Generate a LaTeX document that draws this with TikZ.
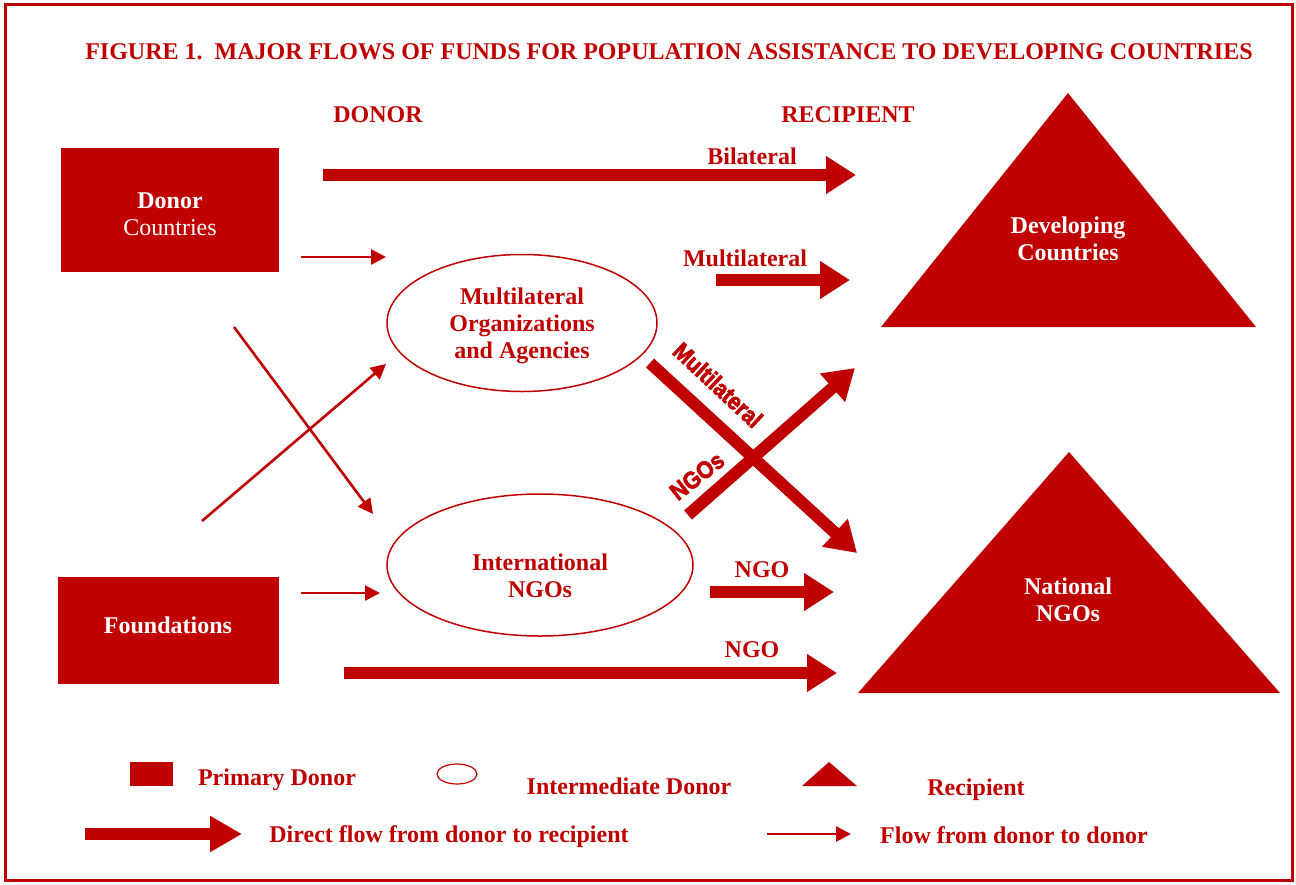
\documentclass[tikz,border=0pt]{standalone}
\usepackage{fontspec}
\setmainfont{Liberation Serif}
\newfontface\heavyfont[FakeBold=3]{Liberation Sans Bold}
\usetikzlibrary{arrows.meta,shapes.geometric}
\definecolor{dred}{HTML}{C00000}
\tikzset{
  txt/.style={text=dred, font=\fontsize{24}{27}\selectfont\bfseries, inner sep=0pt, align=center, text height=19pt, text depth=4pt},
  wtxt/.style={txt, text=white},
  donorbox/.style={fill=dred, draw=none, rectangle, inner sep=0pt},
  interell/.style={ellipse, draw=dred, line width=1.5pt, inner sep=0pt},
  thickflow/.style={draw=dred, line width=12pt, -{Triangle[length=30pt,width=36pt]}},
  thinflow/.style={draw=dred, line width=2.6pt, -{Triangle[length=15pt,width=15pt]}},
  recip/.style={fill=dred, draw=none},
  diaglbl/.style={text=dred, font=\heavyfont\fontsize{24}{27}\selectfont, inner sep=0pt}
}
\begin{document}
\begin{tikzpicture}[x=1pt,y=-1pt]
\useasboundingbox (0,0) rectangle (1296,884);
\draw[dred, line width=3pt] (5,4) rectangle (1292,880);

\node[txt] (title) at (669,52) {FIGURE 1.\ \ MAJOR FLOWS OF FUNDS FOR POPULATION ASSISTANCE TO DEVELOPING COUNTRIES};
\node[txt] (donorhd) at (378,115) {DONOR};
\node[txt] (reciphd) at (848,115) {RECIPIENT};

% primary donors
\node[donorbox, minimum width=218pt, minimum height=124pt] (dc) at (170,210) {};
\node[wtxt] (dctxt) at (170,228) {Donor\\\mdseries Countries};
\node[donorbox, minimum width=221pt, minimum height=107pt] (fd) at (168.5,630.5) {};
\node[wtxt] (fdtxt) at (168,626) {Foundations};

% intermediate donors
\node[interell, minimum width=270pt, minimum height=137pt] (mo) at (522,323) {};
\node[txt] (motxt) at (522,351) {Multilateral\\Organizations\\and Agencies};
\node[interell, minimum width=306pt, minimum height=142pt] (ing) at (540,565) {};
\node[txt] (ingtxt) at (540,590) {International\\NGOs};

% recipients
\coordinate (t1a) at (1068,93);
\coordinate (t1l) at (881,327);
\coordinate (t1r) at (1256,327);
\fill[recip] (t1a) -- (t1l) -- (t1r) -- cycle;
\node[wtxt] (dev) at (1068,253) {Developing\\Countries};
\coordinate (t2a) at (1069,452);
\coordinate (t2l) at (858,693);
\coordinate (t2r) at (1280,693);
\fill[recip] (t2a) -- (t2l) -- (t2r) -- cycle;
\node[wtxt] (nat) at (1068,614) {National\\NGOs};

% direct flows
\coordinate (b1) at (323,175); \coordinate (b2) at (856,175);
\draw[thickflow] (b1) -- (b2);
\node[txt] (bil) at (752,157) {Bilateral};
\coordinate (m1) at (716,280); \coordinate (m2) at (850,280);
\draw[thickflow] (m1) -- (m2);
\node[txt] (mul) at (745,259) {Multilateral};
\coordinate (n1) at (710,592); \coordinate (n2) at (834,592);
\draw[thickflow] (n1) -- (n2);
\node[txt] (ngo1) at (762,570) {NGO};
\coordinate (g1) at (344,673); \coordinate (g2) at (837,673);
\draw[thickflow] (g1) -- (g2);
\node[txt] (ngo2) at (752,650) {NGO};
\coordinate (d1) at (650,363); \coordinate (d2) at (857,553);
\draw[thickflow] (d1) -- (d2);
\node[diaglbl, rotate=-43] (dml) at (718,385) {\scalebox{0.88}[1]{Multilateral}};
\coordinate (e1) at (688,515); \coordinate (e2) at (855,368);
\draw[thickflow] (e1) -- (e2);
\node[diaglbl, rotate=38] (dng) at (697,476) {\scalebox{0.9}[1]{NGOs}};

% donor to donor flows
\coordinate (f1) at (301,257); \coordinate (f2) at (386,257);
\draw[thinflow] (f1) -- (f2);
\coordinate (f3) at (301,593); \coordinate (f4) at (380,593);
\draw[thinflow] (f3) -- (f4);
\coordinate (f5) at (234,327); \coordinate (f6) at (373,514);
\draw[thinflow] (f5) -- (f6);
\coordinate (f7) at (202,521); \coordinate (f8) at (386,364);
\draw[thinflow] (f7) -- (f8);

% legend
\node[donorbox, minimum width=43pt, minimum height=24pt] (lgbox) at (151.5,774) {};
\node[txt] (lgboxt) at (277,778) {Primary Donor};
\node[interell, minimum width=40pt, minimum height=20pt, line width=1.2pt] (lgell) at (457,774) {};
\node[txt] (lgellt) at (629,787) {Intermediate Donor};
\coordinate (lta) at (829,762); \coordinate (ltl) at (802,786); \coordinate (ltr) at (857,786);
\fill[recip] (lta) -- (ltl) -- (ltr) -- cycle;
\node[txt] (lgtrit) at (976,788) {Recipient};
\coordinate (la1) at (85,834); \coordinate (la2) at (242,834);
\draw[thickflow, -{Triangle[length=32pt,width=34pt]}] (la1) -- (la2);
\node[txt] (lgthick) at (449,835) {Direct flow from donor to recipient};
\coordinate (la3) at (767,834); \coordinate (la4) at (851,834);
\draw[thinflow] (la3) -- (la4);
\node[txt] (lgthin) at (1014,836) {Flow from donor to donor};
\end{tikzpicture}
\end{document}
